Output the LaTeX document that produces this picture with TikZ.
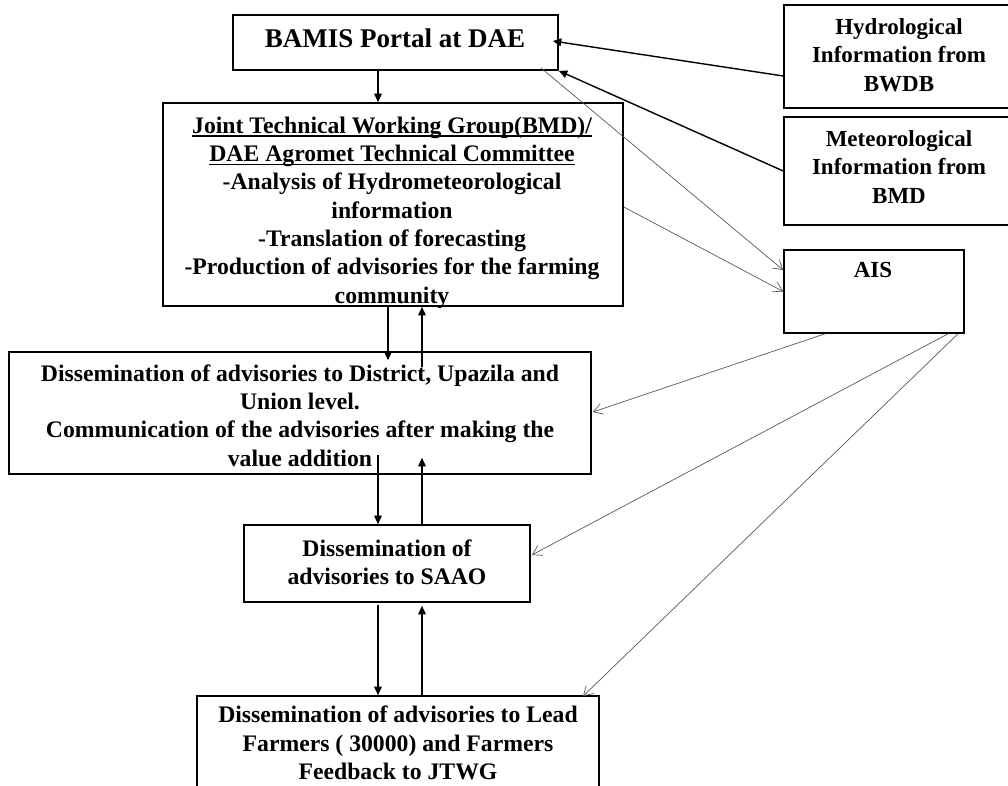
\documentclass[tikz,border=0pt]{standalone}
\usepackage{fontspec}
\setmainfont{Liberation Serif}
\usetikzlibrary{arrows.meta,calc}

% underline that sits close to the baseline
\newcommand\ulline[1]{\setbox0\hbox{#1}\rlap{\rule[-3.5pt]{\wd0}{1.3pt}}\box0}

\begin{document}
\begin{tikzpicture}
        [x=1pt,y=-1pt,
         box/.style={rectangle,draw,line width=1.6pt,inner sep=0pt},
         txt/.style={align=center,inner sep=0pt,font=\bfseries\fontsize{23}{28.3}\selectfont},
         wide/.style={txt,font=\bfseries\fontsize{23.7}{28.3}\selectfont},
         flow/.style={line width=1.4pt,-{Triangle[length=8.5pt,width=7.5pt]}},
         link/.style={line width=0.7pt,draw=black!65,-{Straight Barb[length=9pt,width=11pt]}}]
        \clip (0,0) rectangle (1008,786);

        % boxes
        \node[box,minimum width=325pt,minimum height=55pt]  (bamis) at (395.5,42.5)  {};
        \node[box,minimum width=460pt,minimum height=203pt] (jtwg)  at (393,204.5)   {};
        \node[box,minimum width=228pt,minimum height=103pt] (hydro) at (898,56.5)    {};
        \node[box,minimum width=228pt,minimum height=108pt] (meteo) at (898,171)     {};
        \node[box,minimum width=180pt,minimum height=83pt]  (ais)   at (874,291.5)   {};
        \node[box,minimum width=582pt,minimum height=122pt] (dist)  at (300,413)     {};
        \node[box,minimum width=286pt,minimum height=77pt]  (saao)  at (387,563.5)   {};
        \node[box,minimum width=402pt,minimum height=104pt] (lead)  at (398,748)     {};

        % texts
        \node[txt,font=\bfseries\fontsize{27}{32}\selectfont] (bamisT) at (395,38) {BAMIS Portal at DAE};
        \node[wide] (jtwgT)  at (392,212.5) {\ulline{Joint Technical Working Group(BMD)/}\\
                \ulline{DAE Agromet Technical Committee}\\
                -Analysis of Hydrometeorological\\ information\\
                -Translation of forecasting\\
                -Production of advisories for the farming\\ community};
        \node[txt] (hydroT) at (899,55)    {Hydrological\\ Information from\\ BWDB};
        \node[txt] (meteoT) at (899,167)   {Meteorological\\ Information from\\ BMD};
        \node[txt] (aisT)   at (873,270)   {AIS};
        \node[wide] (distT)  at (300,415.5) {Dissemination of advisories to District, Upazila and\\
                Union level.\\ Communication of the advisories after making the\\ value addition};
        \node[wide] (saaoT)  at (387,562)   {Dissemination of\\ advisories to SAAO};
        \node[wide] (leadT)  at (398,743)   {Dissemination of advisories to Lead\\
                Farmers ( 30000) and Farmers\\ Feedback to JTWG};

        % main flow
        \draw[flow] ($(bamis.south)+(-17.5,0)$) -- ($(jtwg.north)+(-15,0)$);
        \draw[flow] ($(hydro.west)+(0,19.5)$)   -- ($(bamis.east)+(-6,-1.5)$);
        \draw[flow] (meteo.west)                -- (bamis.south east);

        \draw[flow] ($(jtwg.south)+(-5,0)$)   -- ($(dist.north)+(88,9)$);
        \draw[flow] ($(dist.north)+(122,16)$) -- ($(jtwg.south)+(29,0)$);
        \draw[flow] ($(dist.south)+(78,-20)$) -- ($(saao.north)+(-9,0)$);
        \draw[flow] ($(saao.north)+(35,0)$)   -- ($(dist.south)+(122,-17)$);
        \draw[flow] ($(saao.south)+(-9,2)$)   -- ($(lead.north)+(-20,0)$);
        \draw[flow] ($(lead.north)+(24,0)$)   -- ($(saao.south)+(35,3)$);

        % AIS links
        \draw[link] ($(bamis.south east)+(-18,-3)$) -- ($(ais.west)+(0,-21.5)$);
        \draw[link] ($(jtwg.east)+(0,2.5)$)         -- (ais.west);
        \draw[link] ($(ais.south)+(-49,0)$)         -- ($(dist.east)+(1,-1)$);
        \draw[link] ($(ais.south)+(74,0)$)          -- ($(saao.east)+(1,-8.5)$);
        \draw[link] ($(ais.south)+(84,0)$)          -- ($(lead.north)+(185,1)$);
\end{tikzpicture}
\end{document}
